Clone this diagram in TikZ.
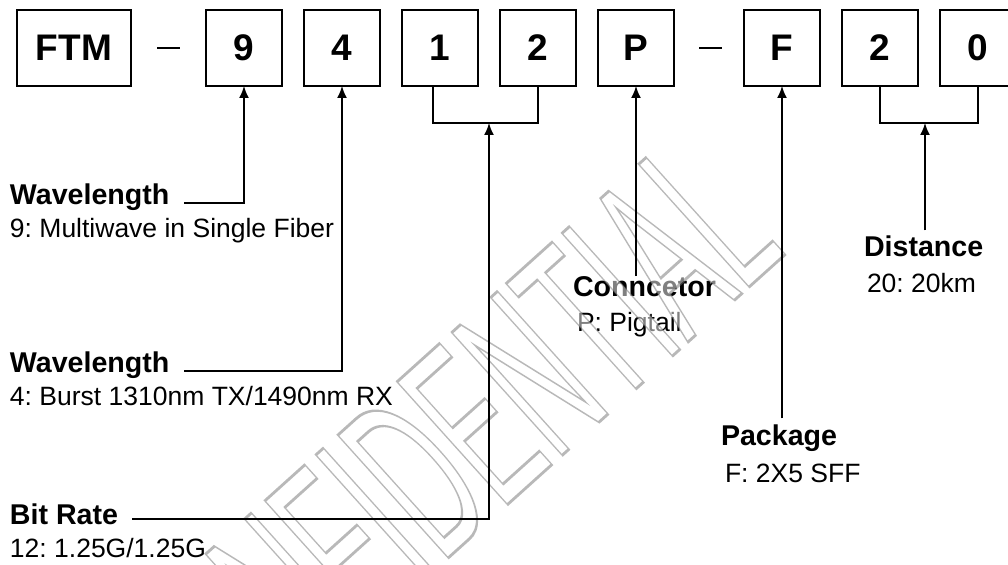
\documentclass[tikz,border=0pt]{standalone}
\usepackage{fontspec}
\setmainfont{Liberation Sans}
\usepackage{graphicx}
\usetikzlibrary{arrows.meta, positioning, calc}
\frenchspacing

% outlined, half transparent watermark text
\newcommand{\outlinetext}[1]{%
  \special{pdf:literal direct 2 Tr 1.4 w 0.45 G}%
  \scalebox{0.46}[1]{#1}%
  \special{pdf:literal direct 0 Tr}}

\begin{document}
\begin{tikzpicture}[
      x=0.5pt, y=-0.5pt,
      node distance=11pt,
      every node/.style={outer sep=0pt},
      digit/.style={
          rectangle,
          draw,
          line width=1pt,
          inner sep=0pt,
          minimum width=38pt,
          minimum height=38pt,
          font=\fontsize{18.5}{20}\selectfont\bfseries
        },
      headbox/.style={
          digit,
          minimum width=57pt
        },
      dashbar/.style={
          rectangle,
          fill=black,
          inner sep=0pt,
          minimum width=11.5pt,
          minimum height=1pt
        },
      title/.style={
          inner sep=0pt,
          anchor=base west,
          font=\fontsize{14.3}{16}\selectfont\bfseries
        },
      desc/.style={
          inner sep=0pt,
          anchor=base west,
          font=\fontsize{13.25}{15}\selectfont
        },
      watermark/.style={
          inner sep=0pt,
          text=white,
          text opacity=0.5,
          rotate=42,
          font=\fontsize{120}{120}\selectfont
        },
      link/.style={
          line width=0.85pt
        },
      arrow/.style={
          link,
          -{Latex[length=6pt,width=5pt]}
        }
    ]
    \useasboundingbox (0,0) rectangle (1008,565);

    % Code boxes
    \node[headbox] (ftm) at (74,48) {FTM};
    \node[dashbar, right=13pt of ftm] (dash1) {};
    \node[digit, right=13pt of dash1] (b9) {9};
    \node[digit, right=of b9] (b4) {4};
    \node[digit, right=of b4] (b1) {1};
    \node[digit, right=of b1] (b2) {2};
    \node[digit, right=of b2] (bP) {P};
    \node[dashbar, right=12.5pt of bP] (dash2) {};
    \node[digit, right=11pt of dash2] (bF) {F};
    \node[digit, right=of bF] (b2b) {2};
    \node[digit, right=of b2b] (b0) {0};

    % Labels
    \node[title] (wl9) at (10,205) {Wavelength};
    \node[desc] (d9) at ([yshift=-16.5pt]wl9.base west) {9: Multiwave in Single Fiber};
    \node[title] (wl4) at (10,373) {Wavelength};
    \node[desc] (d4) at ([yshift=-16.5pt]wl4.base west) {4: Burst 1310nm TX/1490nm RX};
    \node[title] (rate) at (10,525) {Bit Rate};
    \node[desc] (drate) at ([yshift=-16.5pt]rate.base west) {12: 1.25G/1.25G};
    \node[title] (conn) at (573,297) {Conncetor};
    \node[desc] (dconn) at ([xshift=2pt,yshift=-17.5pt]conn.base west) {P: Pigtail};
    \node[title] (pkg) at (721,446) {Package};
    \node[desc] (dpkg) at ([xshift=2pt,yshift=-18.5pt]pkg.base west) {F: 2X5 SFF};
    \node[title] (dist) at (864,257) {Distance};
    \node[desc] (ddist) at ([xshift=1.5pt,yshift=-18pt]dist.base west) {20: 20km};

    % Watermark
    \node[watermark, anchor=base east] (stamp) at (788,252) {\outlinetext{CONFIDENTIAL}};

    % Brackets
    \coordinate (brk12) at ($(b1.south)!0.5!(b2.south)+(0,37)$);
    \coordinate (brk20) at ($(b2b.south)!0.5!(b0.south)+(-4,37)$);
    \draw[link] ([xshift=-3.5pt]b1.south) |- (brk12) -| (b2.south);
    \draw[link] (b2b.south) |- (brk20) -| (b0.south);

    % Arrows
    \draw[arrow] ([xshift=7.5pt,yshift=1pt]wl9.base east) -| (b9.south);
    \draw[arrow] ([xshift=7.5pt,yshift=1pt]wl4.base east) -| (b4.south);
    \draw[arrow] ([xshift=7pt,yshift=3pt]rate.base east) -| (brk12);
    \draw[arrow] ([yshift=0.5pt]conn.north -| bP.south) -- (bP.south);
    \draw[arrow] ([yshift=3.5pt]pkg.north -| bF.south) -- (bF.south);
    \draw[arrow] ([yshift=3pt]dist.north -| brk20) -- (brk20);

  \end{tikzpicture}
\end{document}
